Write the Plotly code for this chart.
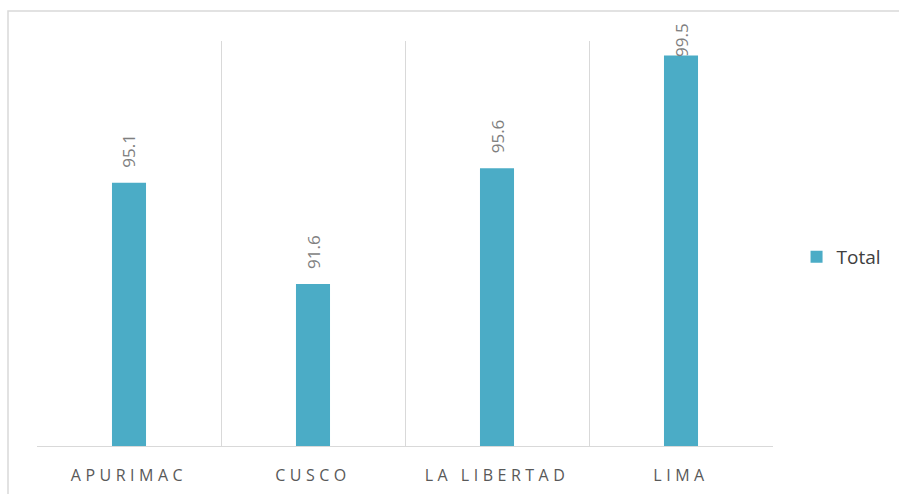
import plotly.graph_objects as go

# Data
regions = ["APURIMAC", "CUSCO", "LA LIBERTAD", "LIMA"]
totals = [95.1, 91.6, 95.6, 99.5]

Y_MIN, Y_MAX = 86, 100
BAR_COLOR = "#4BACC6"
GRID = "#D9D9D9"

W, H = 899, 494
M_L, M_R, M_T, M_B = 37, 126, 41, 48
plot_h = H - M_T - M_B
px_per_unit = plot_h / (Y_MAX - Y_MIN)

fig = go.Figure()
fig.add_trace(go.Bar(
    x=regions, y=totals, name="Total",
    marker=dict(color=BAR_COLOR, line=dict(width=0)),
    width=0.185,
))

# Rotated value labels above each bar, kept inside the chart frame
gap_px, label_h_px, top_limit_px = 15, 36, 20
for r, v in zip(regions, totals):
    bar_top_px = (v - Y_MIN) * px_per_unit           # from the baseline
    label_top_px = bar_top_px + gap_px + label_h_px
    label_top_px = min(label_top_px, plot_h + top_limit_px)
    fig.add_annotation(
        x=r, y=label_top_px / plot_h, xref="x", yref="paper",
        text=f"{v:.1f}", textangle=-90, showarrow=False,
        yanchor="top", xanchor="center",
        font=dict(family="Open Sans", size=17, color="#7F7F7F"),
    )

# Outer chart frame
fx0 = (8 - M_L) / (W - M_L - M_R)
fy1 = (H - M_B - 11) / plot_h
fig.add_shape(type="rect", xref="paper", yref="paper",
              x0=fx0, x1=1.6, y0=-0.5, y1=fy1,
              line=dict(color=GRID, width=1.5), layer="below")

fig.update_layout(
    width=W, height=H,
    margin=dict(l=M_L, r=M_R, t=M_T, b=M_B, autoexpand=False),
    paper_bgcolor="white", plot_bgcolor="white",
    showlegend=True,
    legend=dict(x=1.032, y=0.467, xanchor="left", yanchor="middle",
                font=dict(family="Open Sans", size=19, color="#404040")),
    font=dict(family="Open Sans", color="#595959"),
    bargap=0.815,
)
fig.update_xaxes(
    type="category", tickson="boundaries", showgrid=True, gridcolor=GRID,
    gridwidth=1, showline=True, linecolor=GRID, linewidth=1, mirror=False,
    ticks="", tickfont=dict(family="Open Sans", size=16, color="#595959"),
    ticklabelstandoff=15,
)
fig.update_yaxes(range=[Y_MIN, Y_MAX], showgrid=False, showticklabels=False,
                 zeroline=False, showline=False, ticks="")

# Wide letter spacing on the category labels
post = """
document.querySelectorAll('.xtick text').forEach(function(t){
  t.style.letterSpacing = '4.5px';
});
"""
fig.write_html("out.html", post_script=post)
